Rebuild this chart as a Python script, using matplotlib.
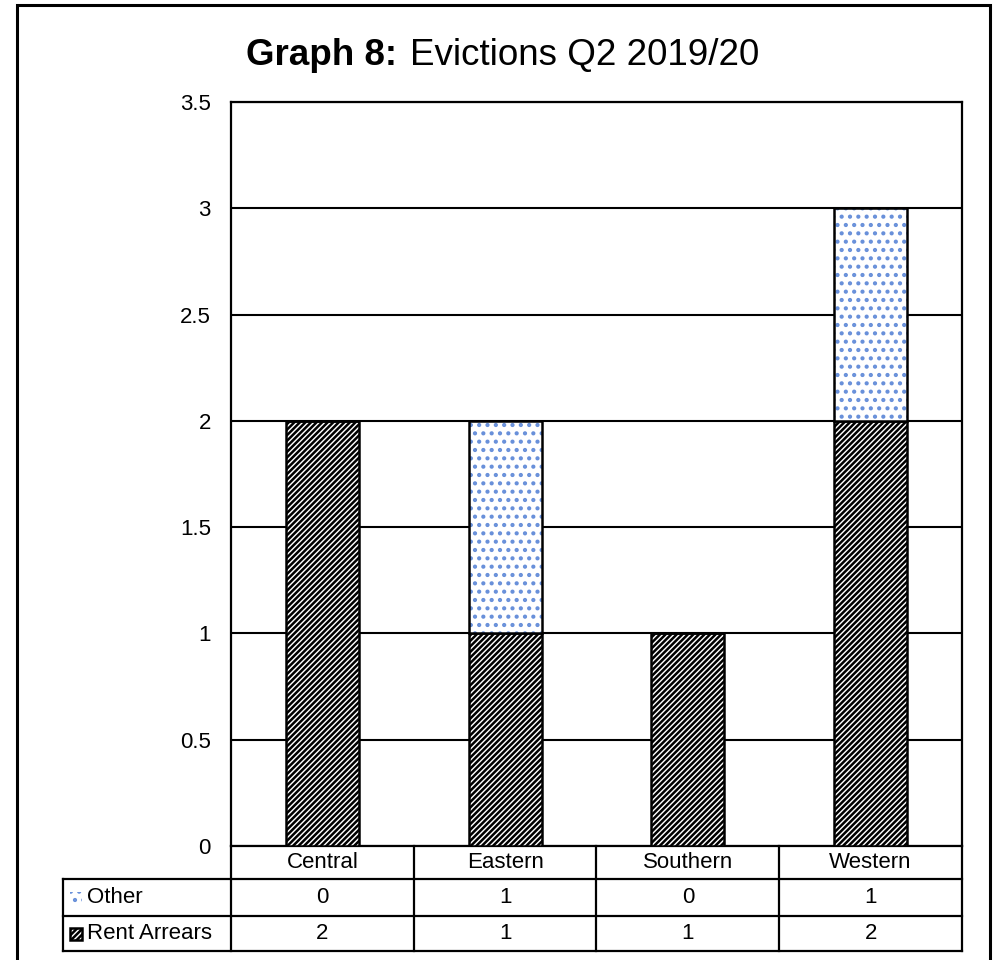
import matplotlib.pyplot as plt
import numpy as np
from matplotlib.patches import Rectangle
from matplotlib.lines import Line2D

plt.rcParams['font.family'] = ['Liberation Sans', 'DejaVu Sans']
plt.rcParams['hatch.linewidth'] = 1.8

categories = ['Central', 'Eastern', 'Southern', 'Western']
rent_arrears = [2, 1, 1, 2]
other = [0, 1, 0, 1]
series_names = ['Other', 'Rent Arrears']
yticks = [0, 0.5, 1, 1.5, 2, 2.5, 3, 3.5]
ytick_labels = ['0', '0.5', '1', '1.5', '2', '2.5', '3', '3.5']

W, H = 995, 960
fs = 16
dot_blue = '#6890da'
fig = plt.figure(figsize=(W / 100, H / 100), dpi=100)

# outer frame
fig.patches.append(Rectangle((17 / W, -0.05), (990 - 17) / W, 1.05 - 5 / H,
                             transform=fig.transFigure, fill=False,
                             edgecolor='black', linewidth=2.2))

ax_l, ax_r, ax_t, ax_b = 231, 962, 102, 846
ax = fig.add_axes([ax_l / W, 1 - ax_b / H, (ax_r - ax_l) / W, (ax_b - ax_t) / H])

x = np.arange(len(categories))
bw = 0.4
ax.bar(x, rent_arrears, bw, color='white', edgecolor='black', hatch='//////',
       linewidth=1.8, zorder=3)
# dotted "Other" bars: hatch in blue, border in black
ax.bar(x, other, bw, bottom=rent_arrears, color='white', edgecolor=dot_blue,
       hatch='..', linewidth=0, zorder=3)
ax.bar(x, other, bw, bottom=rent_arrears, fill=False, edgecolor='black',
       linewidth=1.8, zorder=4)

ax.set_xlim(-0.5, len(categories) - 0.5)
ax.set_ylim(0, 3.5)
ax.set_yticks(yticks)
ax.set_yticklabels(ytick_labels, fontsize=fs)
ax.tick_params(axis='y', length=0, pad=14.5)
ax.set_xticks([])
for y in yticks:
    ax.axhline(y, color='black', linewidth=1.5, zorder=1)
for s in ax.spines.values():
    s.set_linewidth(1.6)

# data table below axes
rows = [(879, 916), (916, 951)]
tab_left = 63
def fx(px):
    return (px - ax_l) / (ax_r - ax_l)
def fy(py):
    return (ax_b - py) / (ax_b - ax_t)

lw = 1.6
kw = dict(transform=ax.transAxes, clip_on=False, color='black', linewidth=lw)
ax.add_line(Line2D([0, 0], [fy(846), fy(951)], **kw))
ax.add_line(Line2D([1, 1], [fy(846), fy(951)], **kw))
for i in range(1, len(categories)):
    ax.add_line(Line2D([i / len(categories)] * 2, [fy(846), fy(951)], **kw))
ax.add_line(Line2D([fx(tab_left), 1], [fy(879), fy(879)], **kw))
ax.add_line(Line2D([fx(tab_left), 1], [fy(916), fy(916)], **kw))
ax.add_line(Line2D([fx(tab_left), 1], [fy(951), fy(951)], **kw))
ax.add_line(Line2D([fx(tab_left)] * 2, [fy(879), fy(951)], **kw))

for i, c in enumerate(categories):
    ax.text((i + 0.5) / len(categories), fy(862.5), c, transform=ax.transAxes,
            ha='center', va='center', fontsize=fs)
for r, vals in enumerate([other, rent_arrears]):
    yc = fy((rows[r][0] + rows[r][1]) / 2)
    for i, v in enumerate(vals):
        ax.text((i + 0.5) / len(categories), yc, str(v), transform=ax.transAxes,
                ha='center', va='center', fontsize=fs)
    ax.text(fx(87), yc, series_names[r], transform=ax.transAxes,
            ha='left', va='center', fontsize=fs)

# legend keys
k = 12
ax.add_patch(Rectangle((fx(70), fy(903.5)), k / (ax_r - ax_l), k / (ax_b - ax_t),
                       transform=ax.transAxes, clip_on=False, facecolor='white',
                       edgecolor=dot_blue, hatch='..', linewidth=0))
ax.add_patch(Rectangle((fx(70), fy(940)), k / (ax_r - ax_l), k / (ax_b - ax_t),
                       transform=ax.transAxes, clip_on=False, facecolor='white',
                       edgecolor='black', hatch='//////', linewidth=1.8))

# title
fig.text(397 / W, 1 - 65 / H, 'Graph 8:', ha='right', va='baseline',
         fontsize=26.5, fontweight='bold')
fig.text(410 / W, 1 - 65 / H, 'Evictions Q2 2019/20', ha='left', va='baseline',
         fontsize=26.5)

fig.savefig('out.png', dpi=100)
